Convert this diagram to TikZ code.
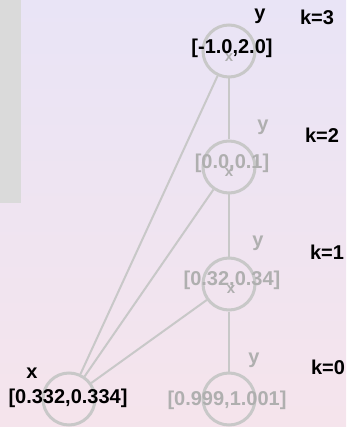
\documentclass[tikz,border=0pt]{standalone}
\usepackage{fontspec}
\setmainfont{Liberation Sans}
\begin{document}
\begin{tikzpicture}[x=1pt,y=-1pt,
  nd/.style={circle,draw=lineg,line width=3pt,minimum size=52pt,inner sep=0pt},
  edge/.style={draw=lineg,line width=2pt},
  lbl/.style={font=\fontsize{20}{20}\selectfont\bfseries,text=black,inner sep=0pt},
  glbl/.style={font=\fontsize{20}{20}\selectfont\bfseries,text=textg,inner sep=0pt},
  xlbl/.style={font=\fontsize{15}{15}\selectfont\bfseries,text=textg,inner sep=0pt}]
\definecolor{lineg}{RGB}{200,200,200}
\definecolor{textg}{RGB}{175,175,175}
\definecolor{bgtop}{RGB}{233,228,246}
\definecolor{bgbot}{RGB}{245,228,236}
\definecolor{panel}{RGB}{218,218,218}
\useasboundingbox (0,0) rectangle (346,427);
\shade[top color=bgtop,bottom color=bgbot] (0,0) rectangle (346,427);
\fill[panel] (0,0) rectangle (21,203);
% nodes
\node[nd] (k3) at (229,51) {};
\node[nd] (k2) at (229,167) {};
\node[nd] (k1) at (229,284) {};
\node[nd] (k0) at (229,399) {};
\node[nd] (xn) at (69,399) {};
% edges
\draw[edge] (k3) -- (k2);
\draw[edge] (k2) -- (k1);
\draw[edge] (k1) -- (k0);
\draw[edge] (xn) -- (k3);
\draw[edge] (xn) -- (k2);
\draw[edge] (xn) -- (k1);
% labels
\node[xlbl] (x3) at (229,58) {x};
\node[lbl] (y3) at (260,16) {y};
\node[lbl] (v3) at (232,48) {[-1.0,2.0]};
\node[lbl] (t3) at (317,17) {k=3};
\node[xlbl] (x2) at (229,173) {x};
\node[glbl] (y2) at (263,127) {y};
\node[glbl] (v2) at (232,163) {[0.0,0.1]};
\node[lbl] (t2) at (322,135) {k=2};
\node[xlbl] (x1) at (231,290) {x};
\node[glbl] (y1) at (258,243) {y};
\node[glbl] (v1) at (232,280) {[0.32,0.34]};
\node[lbl] (t1) at (327,252) {k=1};
\node[glbl] (y0) at (254,360) {y};
\node[glbl] (v0) at (227,400) {[0.999,1.001]};
\node[lbl] (t0) at (328,367) {k=0};
\node[lbl] (xx) at (32,373) {x};
\node[lbl] (vx) at (68,398) {[0.332,0.334]};
\end{tikzpicture}
\end{document}
